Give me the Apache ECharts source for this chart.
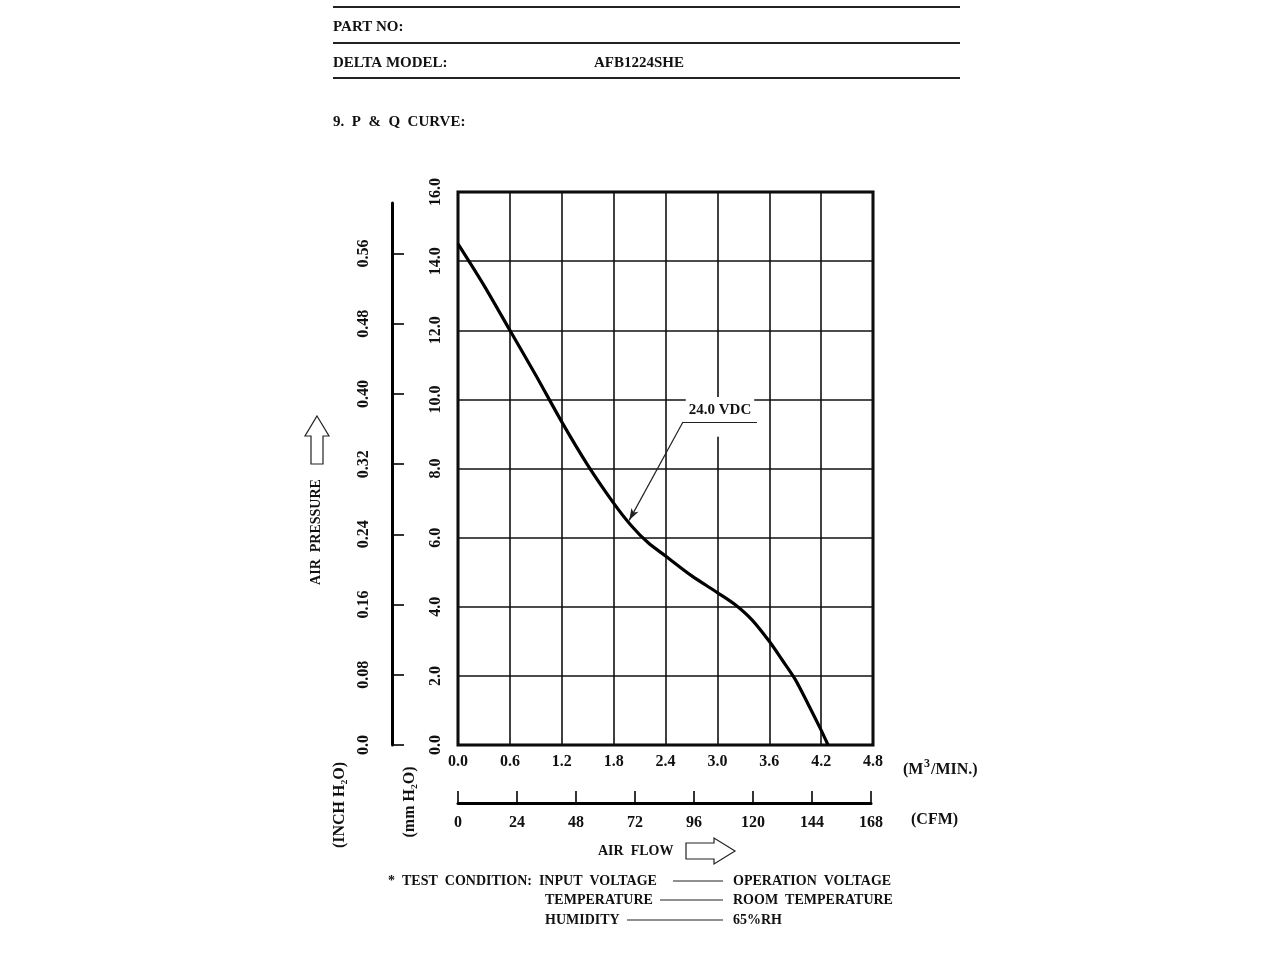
<!DOCTYPE html>
<html>
<head>
<meta charset="utf-8">
<script src="https://cdn.jsdelivr.net/npm/echarts@6/dist/echarts.min.js"></script>
<style>html,body{margin:0;padding:0;background:#fff}#c{width:1280px;height:960px}</style>
</head>
<body>
<div id="c"></div>
<script>
// Air flow (m³/min) and static pressure (mm H2O) read from the P&Q curve
const flow     = [0.0, 0.3, 0.6, 0.9, 1.2, 1.5, 1.8, 2.0, 2.2, 2.4, 2.7, 3.0, 3.2, 3.4, 3.6, 3.75, 3.9, 4.05, 4.2, 4.28];
const pressure = [14.5, 13.3, 12.0, 10.7, 9.35, 8.1, 7.0, 6.36, 5.85, 5.47, 4.9, 4.41, 4.07, 3.62, 3.0, 2.46, 1.9, 1.18, 0.43, 0.0];
const flowTicks = [0.0, 0.6, 1.2, 1.8, 2.4, 3.0, 3.6, 4.2, 4.8];
const mmTicks   = [0, 2, 4, 6, 8, 10, 12, 14, 16];
const inchTicks = [0, 0.08, 0.16, 0.24, 0.32, 0.40, 0.48, 0.56];
const cfmTicks  = [0, 24, 48, 72, 96, 120, 144, 168];
const seriesName = '24.0 VDC';
// annotation leader: arrow tip on curve, elbow, end of underline
const leader = [[1.98, 6.5], [2.602, 9.345], [3.458, 9.345]];

const FONT = '"Liberation Serif", "DejaVu Serif", serif';
const txt = (x, y, s, opt) => ({type:'text', x, y, style:Object.assign({text:s, font:'bold 15px ' + FONT, fill:'#111', textVerticalAlign:'middle'}, opt||{})});
const hline = (x1, x2, y, w) => ({type:'line', shape:{x1, y1:y, x2, y2:y}, style:{stroke:'#222', lineWidth:w||1.2}});

const chart = echarts.init(document.getElementById('c'));
chart.setOption({
  backgroundColor:'#fff',
  animation:false,
  textStyle:{fontFamily:FONT},
  grid:[
    {left:458, top:192, width:415, height:553, show:true, borderColor:'#000', borderWidth:3, backgroundColor:'transparent'},
    {left:392, top:203, width:20, height:542},
    {left:458, top:793, width:413, height:10}
  ],
  xAxis:[
    {gridIndex:0, type:'value', min:flowTicks[0], max:flowTicks[flowTicks.length-1], interval:0.6,
     axisLine:{show:false}, axisTick:{show:false},
     axisLabel:{margin:9, fontSize:16, fontWeight:'bold', color:'#111', fontFamily:FONT, formatter:v=>v.toFixed(1)},
     splitLine:{show:true, lineStyle:{color:'#111', width:1.6}}},
    {gridIndex:1, type:'value', min:0, max:1, show:false},
    {gridIndex:2, type:'value', min:cfmTicks[0], max:cfmTicks[cfmTicks.length-1], interval:24, position:'bottom',
     axisLine:{show:true, lineStyle:{color:'#000', width:3}},
     axisTick:{show:true, inside:true, length:12, lineStyle:{color:'#000', width:1.6}},
     axisLabel:{margin:12, fontSize:16, fontWeight:'bold', color:'#111', fontFamily:FONT},
     splitLine:{show:false}}
  ],
  yAxis:[
    {gridIndex:0, type:'value', min:mmTicks[0], max:mmTicks[mmTicks.length-1], interval:2,
     axisLine:{show:false}, axisTick:{show:false},
     axisLabel:{rotate:90, margin:14, fontSize:16, fontWeight:'bold', color:'#111', fontFamily:FONT, formatter:v=>v.toFixed(1)},
     splitLine:{show:true, lineStyle:{color:'#111', width:1.6}}},
    {gridIndex:1, type:'value', min:0, max:0.6175, position:'left',
     axisLine:{show:true, lineStyle:{color:'#000', width:3}},
     axisTick:{show:true, inside:true, length:12, customValues:inchTicks, lineStyle:{color:'#000', width:1.6}},
     axisLabel:{rotate:90, margin:20, fontSize:16, fontWeight:'bold', color:'#111', fontFamily:FONT, customValues:inchTicks,
                formatter:v=>v===0?'0.0':v.toFixed(2)},
     splitLine:{show:false}},
    {gridIndex:2, type:'value', min:0, max:1, show:false}
  ],
  series:[{
    name:seriesName, type:'line', xAxisIndex:0, yAxisIndex:0,
    data:flow.map((f,i)=>[f, pressure[i]]),
    smooth:0.3, showSymbol:false, symbol:'none',
    lineStyle:{color:'#000', width:3.2},
    markArea:{silent:true, itemStyle:{color:'#fff'},
      data:[[{coord:[2.955, 8.92]}, {coord:[3.045, 9.96]}]]},
    markLine:{silent:true, symbol:['none','none'], animation:false,
      lineStyle:{color:'#222', width:1.2, type:'solid'},
      label:{show:false},
      data:[
        [{coord:leader[0], symbol:'arrow', symbolSize:[6,12]}, {coord:leader[1], symbol:'none'}],
        [{coord:leader[1], symbol:'none', label:{show:true, position:'insideMiddleTop', distance:3, formatter:seriesName,
            fontSize:15, fontWeight:'bold', color:'#111', fontFamily:FONT, backgroundColor:'#fff', padding:[6,3,1,3]}},
         {coord:leader[2], symbol:'none'}]
      ]}
  }],
  graphic:[
    hline(333, 960, 7, 1.8), hline(333, 960, 43, 1.8), hline(333, 960, 78, 1.8),
    txt(333, 27, 'PART NO:'),
    txt(333, 63, 'DELTA MODEL:'),
    txt(594, 63, 'AFB1224SHE'),
    txt(333, 122, '9.  P  &  Q  CURVE:'),
    // axis names
    txt(903, 770, '(M', {font:'bold 16px ' + FONT}),
    txt(924, 764, '3', {font:'bold 12px ' + FONT}),
    txt(931, 770, '/MIN.)', {font:'bold 16px ' + FONT}),
    txt(911, 820, '(CFM)', {font:'bold 16px ' + FONT}),
    txt(598, 851, 'AIR  FLOW', {font:'bold 14px ' + FONT}),
    {type:'polygon', shape:{points:[[686,843],[714,843],[714,838],[735,851],[714,864],[714,859],[686,859]]}, style:{fill:'#fff', stroke:'#222', lineWidth:1.2}},
    {type:'text', x:316, y:532, rotation:Math.PI/2, style:{text:'AIR  PRESSURE', font:'bold 14px ' + FONT, fill:'#111', textAlign:'center', textVerticalAlign:'middle'}},
    {type:'polygon', shape:{points:[[317,416],[329,436],[323,436],[323,464],[311,464],[311,436],[305,436]]}, style:{fill:'#fff', stroke:'#222', lineWidth:1.2}},
    {type:'text', x:340, y:805, rotation:Math.PI/2, style:{text:'(INCH H₂O)', font:'bold 16px ' + FONT, fill:'#111', textAlign:'center', textVerticalAlign:'middle'}},
    {type:'text', x:410, y:802, rotation:Math.PI/2, style:{text:'(mm H₂O)', font:'bold 16px ' + FONT, fill:'#111', textAlign:'center', textVerticalAlign:'middle'}},
    // test condition
    txt(388, 881, '*  TEST  CONDITION:  INPUT  VOLTAGE', {font:'bold 14px ' + FONT}),
    hline(673, 723, 881, 1.2),
    txt(733, 881, 'OPERATION  VOLTAGE', {font:'bold 14px ' + FONT}),
    txt(545, 900, 'TEMPERATURE', {font:'bold 14px ' + FONT}),
    hline(660, 723, 900, 1.2),
    txt(733, 900, 'ROOM  TEMPERATURE', {font:'bold 14px ' + FONT}),
    txt(545, 920, 'HUMIDITY', {font:'bold 14px ' + FONT}),
    hline(627, 723, 920, 1.2),
    txt(733, 920, '65%RH', {font:'bold 14px ' + FONT})
  ]
});
</script>
</body>
</html>
